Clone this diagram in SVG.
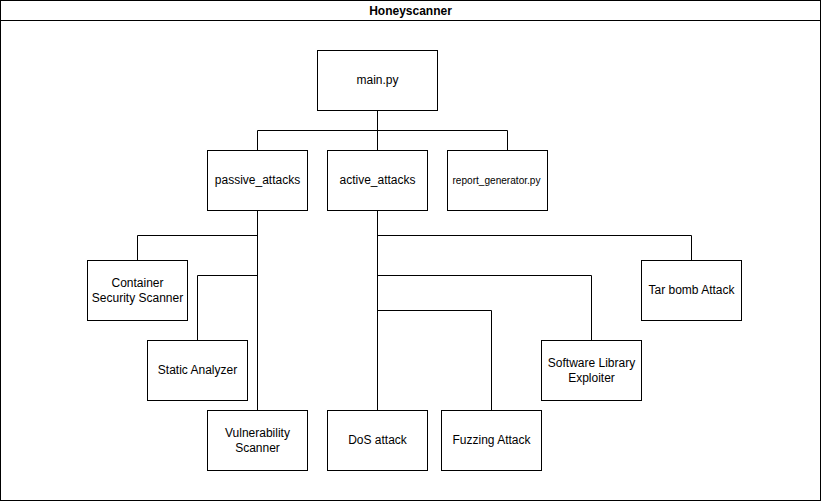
<svg xmlns="http://www.w3.org/2000/svg" width="821" height="501" viewBox="0 0 821 501">
<style>
.box{fill:#ffffff;stroke:#000000;stroke-width:1}
.edge{fill:none;stroke:#000000;stroke-width:1}
text{font-family:"Liberation Sans",Arial,Helvetica,sans-serif;font-size:12px;fill:#000000;text-anchor:middle;dominant-baseline:central}
.title{font-weight:bold}
</style>
<rect width="821" height="501" fill="#ffffff"/>
<g id="container">
<rect class="box" x="0.5" y="0.5" width="820" height="500"/>
<line class="edge" x1="0.5" y1="20.5" x2="820.5" y2="20.5"/>
<text class="title" x="410.5" y="11">Honeyscanner</text>
</g>
<g id="connectors">
<path class="edge" d="M377.5 110.5V130.5H257.5V150.5"/>
<path class="edge" d="M377.5 110.5V150.5"/>
<path class="edge" d="M377.5 130.5H507.5V150.5"/>
<path class="edge" d="M257.5 210.5V235.5H137.5V260.5"/>
<path class="edge" d="M257.5 210.5V275.5H197.5V340.5"/>
<path class="edge" d="M257.5 210.5V410.5"/>
<path class="edge" d="M377.5 210.5V410.5"/>
<path class="edge" d="M377.5 235.5H691.5V260.5"/>
<path class="edge" d="M377.5 275.5H591.5V340.5"/>
<path class="edge" d="M377.5 310.5H491.5V410.5"/>
</g>
<g id="main">
<rect class="box" x="317.5" y="50.5" width="120" height="60"/>
<text x="377.5" y="80">main.py</text>
</g>
<g id="passive_attacks">
<rect class="box" x="207.5" y="150.5" width="100" height="60"/>
<text x="257.5" y="180">passive_attacks</text>
</g>
<g id="active_attacks">
<rect class="box" x="327.5" y="150.5" width="100" height="60"/>
<text x="377.5" y="180">active_attacks</text>
</g>
<g id="report_generator">
<rect class="box" x="447.5" y="150.5" width="100" height="60"/>
<text x="496.5" y="180" style="font-size:11.5px" textLength="88" lengthAdjust="spacingAndGlyphs">report_generator.py</text>
</g>
<g id="container_scanner">
<rect class="box" x="87.5" y="260.5" width="100" height="60"/>
<text x="137.5" y="283">Container</text>
<text x="137.5" y="298">Security Scanner</text>
</g>
<g id="static_analyzer">
<rect class="box" x="147.5" y="340.5" width="100" height="60"/>
<text x="197.5" y="370">Static Analyzer</text>
</g>
<g id="vulnerability_scanner">
<rect class="box" x="207.5" y="410.5" width="100" height="60"/>
<text x="257.5" y="433">Vulnerability</text>
<text x="257.5" y="448">Scanner</text>
</g>
<g id="dos_attack">
<rect class="box" x="327.5" y="410.5" width="100" height="60"/>
<text x="377.5" y="440">DoS attack</text>
</g>
<g id="fuzzing_attack">
<rect class="box" x="441.5" y="410.5" width="100" height="60"/>
<text x="491.5" y="440">Fuzzing Attack</text>
</g>
<g id="software_library_exploiter">
<rect class="box" x="541.5" y="340.5" width="100" height="60"/>
<text x="591.5" y="363">Software Library</text>
<text x="591.5" y="378">Exploiter</text>
</g>
<g id="tar_bomb_attack">
<rect class="box" x="641.5" y="260.5" width="100" height="60"/>
<text x="691.5" y="290">Tar bomb Attack</text>
</g>
</svg>
